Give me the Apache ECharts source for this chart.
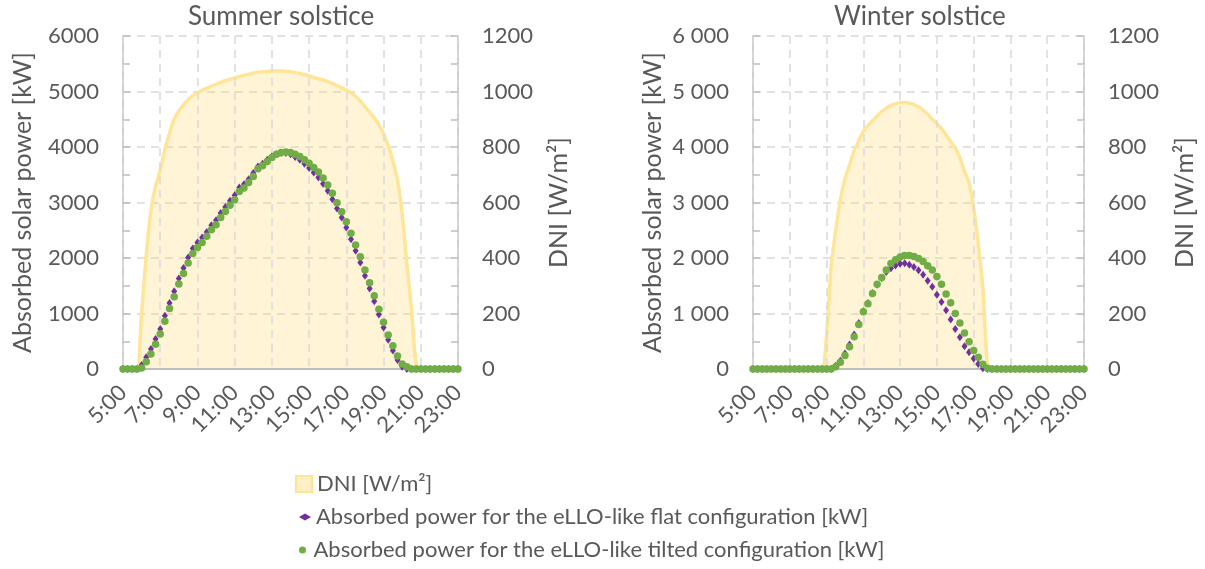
<!DOCTYPE html>
<html>
<head>
<meta charset="utf-8">
<script src="https://cdn.jsdelivr.net/npm/echarts@6/dist/echarts.min.js"></script>
<style>
html,body{margin:0;padding:0;background:#fff;}
#chart{width:1205px;height:569px;}
</style>
</head>
<body>
<div id="chart"></div>
<script>
// ---- data ----
const times = ["5:00","5:15","5:30","5:45","6:00","6:15","6:30","6:45","7:00","7:15","7:30","7:45","8:00","8:15","8:30","8:45","9:00","9:15","9:30","9:45","10:00","10:15","10:30","10:45","11:00","11:15","11:30","11:45","12:00","12:15","12:30","12:45","13:00","13:15","13:30","13:45","14:00","14:15","14:30","14:45","15:00","15:15","15:30","15:45","16:00","16:15","16:30","16:45","17:00","17:15","17:30","17:45","18:00","18:15","18:30","18:45","19:00","19:15","19:30","19:45","20:00","20:15","20:30","20:45","21:00","21:15","21:30","21:45","22:00","22:15","22:30","22:45","23:00"];

const titles = ["Summer solstice", "Winter solstice"];
const seriesNames = ["DNI [W/m²]", "Absorbed power for the eLLO-like flat configuration [kW]", "Absorbed power for the eLLO-like tilted configuration [kW]"];
const powerAxisName = "Absorbed solar power [kW]";
const dniAxisName = "DNI [W/m²]";
const powerTicksSummer = ["0","1000","2000","3000","4000","5000","6000"];
const powerTicksWinter = ["0","1 000","2 000","3 000","4 000","5 000","6 000"];
const dniTicks = ["0","200","400","600","800","1000","1200"];

const summerDNI = [0,0,0,0,200,410,570,660,715,790,850,900,930,952,970,985,995,1004,1012,1019,1026,1033,1039,1044,1049,1054,1058,1062,1066,1069,1071,1073,1074,1074,1074,1073,1071,1068,1065,1061,1056,1051,1046,1042,1036,1029,1021,1013,1005,995,982,966,945,925,905,880,848,805,750,680,560,380,215,20,0,0,0,0,0,0,0,0,0];
const summerFlat = [0,0,0,0,70,210,360,540,720,960,1190,1400,1630,1820,2010,2170,2280,2370,2470,2590,2680,2810,2920,3030,3130,3270,3330,3420,3530,3650,3700,3770,3830,3870,3890,3890,3870,3820,3770,3700,3620,3540,3450,3340,3210,3060,2890,2730,2550,2340,2130,1920,1680,1450,1220,980,750,525,335,160,40,0,0,0,0,0,0,0,0,0,0,0,0];
const summerTilted = [0,0,0,0,20,130,270,445,630,860,1090,1300,1530,1720,1910,2080,2190,2280,2390,2510,2600,2730,2840,2950,3050,3200,3260,3360,3470,3610,3660,3740,3810,3870,3900,3910,3900,3870,3830,3770,3706,3630,3550,3440,3315,3165,2997,2835,2655,2445,2234,2024,1784,1555,1321,1075,841,613,420,234,90,42,0,0,0,0,0,0,0,0,0,0,0];

const winterDNI = [0,0,0,0,0,0,0,0,0,0,0,0,0,0,0,0,120,370,500,610,685,735,787,822,857,877,895,912,928,940,950,955,960,960,958,953,945,933,918,900,885,866,843,819,795,762,712,670,580,450,290,20,0,0,0,0,0,0,0,0,0,0,0,0,0,0,0,0,0,0,0,0,0];
const winterFlat = [0,0,0,0,0,0,0,0,0,0,0,0,0,0,0,0,0,0,60,150,280,440,620,830,1040,1190,1370,1520,1640,1750,1815,1865,1895,1905,1880,1840,1780,1700,1590,1480,1340,1205,1060,890,720,570,410,300,190,90,15,0,0,0,0,0,0,0,0,0,0,0,0,0,0,0,0,0,0,0,0,0,0];
const winterTilted = [0,0,0,0,0,0,0,0,0,0,0,0,0,0,0,0,0,0,42,120,245,400,580,800,1030,1175,1360,1525,1650,1785,1900,1970,2020,2045,2045,2025,1990,1935,1860,1785,1665,1525,1350,1195,1000,830,650,490,335,210,85,15,0,0,0,0,0,0,0,0,0,0,0,0,0,0,0,0,0,0,0,0,0];

// ---- styling ----
const FONT = 'Lato';
const TXT = '#595959';
const GRIDC = '#D9D9D9';
const AXC = '#BFBFBF';
const grids = [
  {left: 123, top: 36, width: 335, height: 333},
  {left: 753, top: 36, width: 331, height: 333}
];

function xAxisFor(gi) {
  return {
    type: 'category', gridIndex: gi, data: times, boundaryGap: false, z: 3,
    axisLine: {show: true, lineStyle: {color: AXC, width: 2}},
    axisTick: {show: false},
    axisLabel: {interval: 7, rotate: 45, margin: 20, color: TXT, fontSize: 22, fontFamily: FONT},
    splitLine: {show: true, interval: 7, lineStyle: {color: GRIDC, width: 1.5, type: [8, 6]}}
  };
}
function powerAxis(gi, ticks) {
  return {
    type: 'value', gridIndex: gi, position: 'left', min: 0, max: 6000, interval: 1000,
    name: powerAxisName, nameLocation: 'middle', nameGap: 88,
    nameTextStyle: {color: TXT, fontSize: 25, fontFamily: FONT},
    axisLine: {show: true, lineStyle: {color: AXC, width: 1.5}},
    axisTick: {show: true, inside: true, length: 7, lineStyle: {color: AXC, width: 1.5}},
    minorTick: {show: true, splitNumber: 2, length: 7, lineStyle: {color: AXC, width: 1.5}},
    axisLabel: {margin: 24, color: TXT, fontSize: 22, fontFamily: FONT,
      formatter: (v) => ticks[Math.round(v / 1000)]},
    splitLine: {show: true, lineStyle: {color: GRIDC, width: 1.5, type: [8, 6]}}
  };
}
function dniAxis(gi) {
  return {
    type: 'value', gridIndex: gi, position: 'right', min: 0, max: 1200, interval: 200,
    name: dniAxisName, nameLocation: 'middle', nameGap: 88,
    nameTextStyle: {color: TXT, fontSize: 25, fontFamily: FONT},
    axisLine: {show: true, lineStyle: {color: AXC, width: 1.5}},
    axisTick: {show: true, inside: true, length: 7, lineStyle: {color: AXC, width: 1.5}},
    minorTick: {show: true, splitNumber: 2, length: 7, lineStyle: {color: AXC, width: 1.5}},
    axisLabel: {margin: 24, color: TXT, fontSize: 22, fontFamily: FONT,
      formatter: (v) => dniTicks[Math.round(v / 200)]},
    splitLine: {show: false}
  };
}
function dniSeries(xi, yi, data) {
  return {
    name: seriesNames[0], type: 'line', xAxisIndex: xi, yAxisIndex: yi, data: data,
    smooth: 0.3, symbol: 'none', z: 1,
    lineStyle: {color: '#FFE597', width: 3.5},
    itemStyle: {color: '#FFE597'},
    areaStyle: {color: 'rgba(255,217,102,0.38)'}
  };
}
function flatSeries(xi, yi, data) {
  return {
    name: seriesNames[1], type: 'scatter', xAxisIndex: xi, yAxisIndex: yi, data: data,
    symbol: 'diamond', symbolSize: [6, 8], z: 4,
    itemStyle: {color: '#7030A0', opacity: 1}
  };
}
function tiltedSeries(xi, yi, data) {
  return {
    name: seriesNames[2], type: 'scatter', xAxisIndex: xi, yAxisIndex: yi, data: data,
    symbol: 'circle', symbolSize: 7.5, z: 5,
    itemStyle: {color: '#70AD47', opacity: 1}
  };
}

const legendText = {color: TXT, fontSize: 22, fontFamily: FONT};
const option = {
  backgroundColor: '#ffffff',
  animation: false,
  textStyle: {fontFamily: FONT},
  title: [
    {text: titles[0], left: 188, top: 4, padding: 0, textStyle: {color: TXT, fontSize: 26, fontWeight: 'normal', fontFamily: FONT}},
    {text: titles[1], left: 834, top: 4, padding: 0, textStyle: {color: TXT, fontSize: 26, fontWeight: 'normal', fontFamily: FONT}}
  ],
  grid: grids,
  xAxis: [xAxisFor(0), xAxisFor(1)],
  yAxis: [powerAxis(0, powerTicksSummer), dniAxis(0), powerAxis(1, powerTicksWinter), dniAxis(1)],
  legend: [
    {left: 295, top: 473, padding: 0, itemWidth: 16, itemHeight: 16, textStyle: legendText, itemGap: 0,
     selectedMode: false,
     data: [{name: seriesNames[0], icon: 'rect', itemStyle: {color: '#FDEFC5', borderColor: '#FFE38F', borderWidth: 2}}]},
    {left: 299, top: 506, padding: 0, itemWidth: 12, itemHeight: 7, textStyle: legendText, selectedMode: false,
     data: [{name: seriesNames[1], icon: 'diamond', itemStyle: {color: '#7030A0'}}]},
    {left: 299, top: 539, padding: 0, itemWidth: 12, itemHeight: 7, textStyle: legendText, selectedMode: false,
     data: [{name: seriesNames[2], icon: 'circle', itemStyle: {color: '#70AD47'}}]}
  ],
  series: [
    dniSeries(0, 1, summerDNI), flatSeries(0, 0, summerFlat), tiltedSeries(0, 0, summerTilted),
    dniSeries(1, 3, winterDNI), flatSeries(1, 2, winterFlat), tiltedSeries(1, 2, winterTilted)
  ]
};
const chart = echarts.init(document.getElementById('chart'), null, {renderer: 'canvas'});
chart.setOption(option);
</script>
</body>
</html>
